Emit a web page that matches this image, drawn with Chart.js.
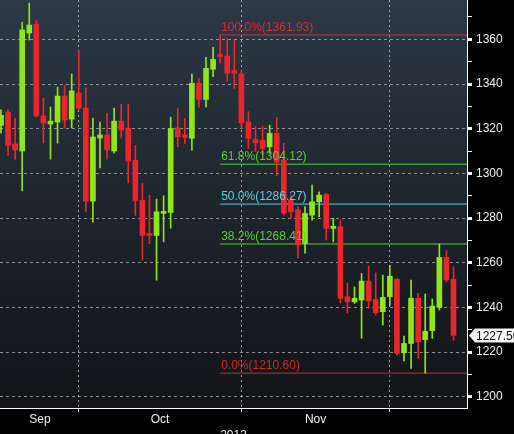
<!DOCTYPE html>
<html>
<head>
<meta charset="utf-8">
<script src="https://cdn.jsdelivr.net/npm/chart.js@4"></script>
<style>
  html, body { margin: 0; padding: 0; background: #000; }
  #wrap { width: 514px; height: 434px; position: relative; }
</style>
</head>
<body>
<div id="wrap"><canvas id="chart"></canvas></div>
<script>
// trading days, Sep 13 2013 .. Dec 12 2013
const dates = [
  '2013-09-13','2013-09-16','2013-09-17','2013-09-18','2013-09-19','2013-09-20','2013-09-23','2013-09-24','2013-09-25','2013-09-26','2013-09-27','2013-09-30',
  '2013-10-01','2013-10-02','2013-10-03','2013-10-04','2013-10-07','2013-10-08','2013-10-09','2013-10-10','2013-10-11','2013-10-14','2013-10-15','2013-10-16',
  '2013-10-17','2013-10-18','2013-10-21','2013-10-22','2013-10-23','2013-10-24','2013-10-25','2013-10-28','2013-10-29','2013-10-30','2013-10-31',
  '2013-11-01','2013-11-04','2013-11-05','2013-11-06','2013-11-07','2013-11-08','2013-11-11','2013-11-12','2013-11-13','2013-11-14','2013-11-15',
  '2013-11-18','2013-11-19','2013-11-20','2013-11-21','2013-11-22','2013-11-25','2013-11-26','2013-11-27','2013-11-28','2013-11-29',
  '2013-12-02','2013-12-03','2013-12-04','2013-12-05','2013-12-06','2013-12-09','2013-12-10','2013-12-11','2013-12-12'
];

const open = [
  1321.5, 1327.4, 1313.2, 1310.0, 1362.8, 1366.8, 1325.7, 1322.1, 1323.0, 1334.6, 1324.3, 1336.0,
  1329.2, 1287.6, 1315.8, 1317.2, 1310.0, 1323.4, 1320.3, 1305.8, 1287.9, 1273.1, 1272.2, 1282.1,
  1282.5, 1320.4, 1317.2, 1315.7, 1340.3, 1333.1, 1346.6, 1353.0, 1352.5, 1346.0, 1344.5,
  1323.1, 1315.2, 1314.9, 1311.9, 1317.9, 1306.0, 1288.1, 1283.7, 1268.7, 1281.3, 1287.3,
  1290.6, 1275.4, 1276.1, 1244.8, 1242.5, 1243.3, 1251.8, 1243.6, 1238.1, 1244.8,
  1252.6, 1219.7, 1223.9, 1244.1, 1225.6, 1229.6, 1240.0, 1262.4, 1252.6
];
const high = [
  1328.5, 1328.5, 1324.8, 1367.7, 1376.2, 1368.6, 1333.7, 1329.7, 1338.6, 1339.5, 1344.5, 1354.8,
  1338.2, 1324.8, 1323.0, 1327.0, 1329.2, 1331.0, 1331.0, 1312.5, 1295.5, 1290.2, 1288.5, 1290.0,
  1325.2, 1329.1, 1324.6, 1344.5, 1342.5, 1351.9, 1356.4, 1361.93, 1360.4, 1359.7, 1346.0,
  1327.6, 1321.0, 1321.2, 1321.6, 1325.0, 1313.5, 1290.3, 1285.1, 1285.1, 1294.8, 1291.8,
  1291.1, 1279.9, 1279.1, 1250.9, 1249.2, 1255.2, 1258.5, 1255.5, 1254.5, 1258.9,
  1253.2, 1227.2, 1252.3, 1246.3, 1246.0, 1243.8, 1268.4, 1265.4, 1258.2
];
const low = [
  1318.0, 1308.0, 1306.4, 1292.2, 1359.7, 1325.2, 1313.6, 1306.4, 1313.6, 1320.3, 1320.3, 1328.4,
  1282.7, 1278.2, 1302.4, 1306.4, 1309.1, 1315.8, 1295.7, 1281.2, 1261.2, 1268.5, 1252.2, 1269.4,
  1275.5, 1311.9, 1313.4, 1310.4, 1329.6, 1329.6, 1343.3, 1349.5, 1341.3, 1338.0, 1320.2,
  1311.2, 1309.7, 1308.2, 1309.0, 1299.0, 1281.3, 1280.0, 1262.1, 1264.3, 1279.1, 1280.6,
  1270.2, 1269.4, 1242.0, 1237.5, 1241.8, 1226.2, 1239.6, 1236.6, 1232.1, 1240.9,
  1218.7, 1216.1, 1212.7, 1217.2, 1210.6, 1226.2, 1238.8, 1251.5, 1225.4
];
const close = [
  1326.0, 1312.6, 1310.5, 1364.2, 1366.4, 1325.7, 1322.5, 1323.4, 1334.6, 1323.9, 1336.9, 1329.2,
  1287.6, 1316.3, 1317.2, 1310.5, 1323.4, 1319.4, 1305.5, 1287.9, 1272.2, 1272.2, 1282.8, 1282.8,
  1320.1, 1316.4, 1316.1, 1340.3, 1333.1, 1347.0, 1351.0, 1352.3, 1344.8, 1344.8, 1322.6,
  1315.7, 1313.7, 1311.2, 1317.9, 1305.1, 1282.2, 1282.8, 1268.0, 1282.1, 1287.3, 1290.3,
  1275.4, 1276.1, 1244.1, 1242.5, 1244.1, 1251.8, 1242.9, 1237.6, 1244.5, 1254.0,
  1219.5, 1223.9, 1244.1, 1224.6, 1229.3, 1240.6, 1262.4, 1252.3, 1227.5
];

// fibonacci retracement from the Oct 28 high to the Dec 5 low
const fibPct = ['100.0%', '61.8%', '50.0%', '38.2%', '0.0%'];
const fibLevels = [1361.93, 1304.12, 1286.27, 1268.41, 1210.60];

const monthNames = ['Sep', 'Oct', 'Nov'];
const yearLabel = '2013';

const UP = '#8fe61d';
const DOWN = '#e8272d';
const fibColors = ['#d0303a', '#5ccf35', '#5cd2e4', '#5ccf35', '#d02a2a'];
const FONT = 'Liberation Sans, Arial, sans-serif';

// month ends -> grid lines, month middles -> labels
const monthEnds = [];
for (let i = 0; i < dates.length - 1; i++) {
  if (dates[i].slice(5, 7) !== dates[i + 1].slice(5, 7)) monthEnds.push(i);
}
const xTicks = [];
let prev = 0;
monthEnds.forEach((e, k) => {
  if (k < monthNames.length) xTicks.push({ value: (prev + e) / 2, label: monthNames[k], grid: false });
  xTicks.push({ value: e, label: '', grid: true });
  prev = e;
});
xTicks.sort((a, b) => a.value - b.value);

const fibStart = high.indexOf(fibLevels[0]);
const last = close.length - 1;

const bodies = dates.map((d, i) => ({ x: i, y: [open[i], close[i]] }));
const wicks = dates.map((d, i) => ({ x: i, y: [low[i], high[i]] }));
const candleColor = ctx => close[ctx.dataIndex] >= open[ctx.dataIndex] ? UP : DOWN;

const fibSets = fibLevels.map((lv, k) => ({
  type: 'line',
  data: [{ x: fibStart, y: lv }, { x: 66, y: lv }],
  borderColor: fibColors[k],
  borderWidth: 1,
  pointRadius: 0,
  order: 3
}));

const bgPlugin = {
  id: 'bg',
  beforeDraw(chart) {
    const { ctx, chartArea: a } = chart;
    ctx.save();
    ctx.fillStyle = '#000';
    ctx.fillRect(0, 0, chart.width, chart.height);
    const g = ctx.createLinearGradient(0, a.top, 0, a.bottom);
    g.addColorStop(0, '#2c3946');
    g.addColorStop(0.5, '#1e252d');
    g.addColorStop(1, '#121417');
    ctx.fillStyle = g;
    ctx.fillRect(a.left, a.top, a.right - a.left, a.bottom - a.top);
    ctx.restore();
  }
};

const fibText = {
  id: 'fibText',
  afterDatasetsDraw(chart) {
    const { ctx, scales: { x, y } } = chart;
    ctx.save();
    ctx.font = '12px ' + FONT;
    ctx.textBaseline = 'bottom';
    ctx.textAlign = 'left';
    fibLevels.forEach((lv, k) => {
      ctx.fillStyle = fibColors[k];
      ctx.fillText(fibPct[k] + '(' + lv.toFixed(2) + ')', x.getPixelForValue(fibStart) + 1, y.getPixelForValue(lv) - 1);
    });
    ctx.restore();
  }
};

const priceTag = {
  id: 'priceTag',
  afterDraw(chart) {
    const { ctx, chartArea: a, scales: { y } } = chart;
    const py = Math.round(y.getPixelForValue(close[last])) + 0.5;
    const x0 = a.right + 2;
    ctx.save();
    ctx.fillStyle = '#f4f4f4';
    ctx.beginPath();
    ctx.moveTo(x0, py);
    ctx.lineTo(x0 + 6, py - 7);
    ctx.lineTo(chart.width, py - 7);
    ctx.lineTo(chart.width, py + 7);
    ctx.lineTo(x0 + 6, py + 7);
    ctx.closePath();
    ctx.fill();
    ctx.fillStyle = '#111';
    ctx.font = '12px ' + FONT;
    ctx.textBaseline = 'middle';
    ctx.fillText(close[last].toFixed(2), x0 + 7, py + 1);
    ctx.restore();
  }
};

new Chart(document.getElementById('chart'), {
  type: 'bar',
  data: {
    datasets: [
      {
        data: bodies,
        backgroundColor: candleColor,
        barThickness: 5,
        minBarLength: 2,
        grouped: false,
        order: 1
      },
      {
        data: wicks,
        backgroundColor: candleColor,
        barThickness: 1,
        grouped: false,
        order: 2
      },
      ...fibSets
    ]
  },
  options: {
    responsive: true,
    maintainAspectRatio: false,
    animation: false,
    layout: { padding: 0 },
    plugins: { legend: { display: false }, tooltip: { enabled: false } },
    scales: {
      x: {
        type: 'linear',
        offset: false,
        min: -0.14,
        max: 65.91,
        afterBuildTicks: s => { s.ticks = xTicks.map(t => ({ value: t.value })); },
        afterFit: s => { s.height = 26; s.paddingLeft = 0; s.paddingRight = 0; },
        ticks: {
          autoSkip: false,
          maxRotation: 0,
          padding: 0,
          color: '#f0f0f0',
          font: { family: FONT, size: 12 },
          callback: (v, i) => xTicks[i] ? xTicks[i].label : ''
        },
        grid: {
          offset: false,
          color: ctx => (ctx.tick && xTicks[ctx.index] && xTicks[ctx.index].grid) ? 'rgba(215,215,215,0.7)' : 'rgba(0,0,0,0)',
          tickColor: ctx => (ctx.tick && xTicks[ctx.index] && xTicks[ctx.index].grid) ? '#ffffff' : 'rgba(0,0,0,0)',
          tickLength: 4
        },
        border: { display: true, color: '#ffffff', width: 1, dash: [2, 3] },
        title: {
          display: true,
          text: yearLabel,
          color: '#f0f0f0',
          font: { family: FONT, size: 12 },
          padding: { top: 0, bottom: -9 }
        }
      },
      y: {
        position: 'right',
        min: 1195,
        max: 1377.6,
        afterFit: s => { s.width = 47; s.paddingTop = 0; s.paddingBottom = 0; },
        ticks: {
          stepSize: 10,
          includeBounds: false,
          autoSkip: false,
          padding: 4,
          color: '#f0f0f0',
          font: { family: FONT, size: 12 },
          callback: v => v % 20 === 0 ? String(v) : ''
        },
        grid: {
          color: ctx => (ctx.tick && ctx.tick.value % 20 === 0) ? 'rgba(215,215,215,0.6)' : 'rgba(0,0,0,0)',
          tickColor: '#ffffff',
          tickWidth: ctx => (ctx.tick && ctx.tick.value % 20 === 0) ? 3 : 1,
          tickLength: 5
        },
        border: { display: true, color: '#ffffff', width: 1, dash: [3, 3] }
      }
    }
  },
  plugins: [bgPlugin, fibText, priceTag]
});
</script>
</body>
</html>
